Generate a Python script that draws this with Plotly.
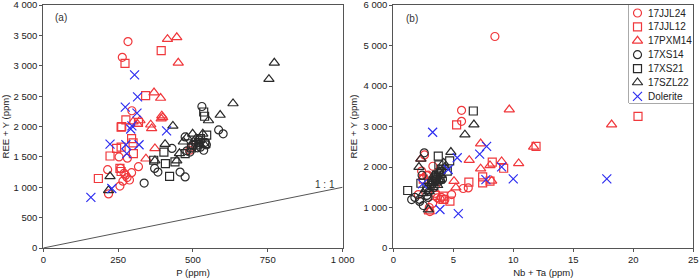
import plotly.graph_objects as go

# ---------------- data: panel (a) P vs REE+Y ----------------
jjl24_p = [283, 264, 296, 253, 218, 256, 275, 288, 295, 318, 281, 215, 266, 280, 489, 495, 258, 270]
jjl24_ree_a = [3400, 3140, 2260, 1500, 890, 1020, 1200, 1120, 1240, 1340, 1480, 1290, 1100, 1160, 1610, 1660, 1310, 1230]

jjl12_p = [273, 394, 342, 260, 276, 262, 260, 295, 223, 301, 184, 256, 260, 245, 318, 300]
jjl12_ree_a = [3040, 3250, 2510, 1990, 2110, 2000, 1660, 1800, 1515, 1555, 1145, 1310, 1260, 1640, 2070, 1730]

pxm14_p = [415, 446, 451, 370, 392, 359, 399, 323, 362, 394, 373, 343, 300, 315, 396]
pxm14_ree_a = [3440, 3470, 3050, 2560, 2470, 2030, 2150, 2100, 1970, 2130, 1640, 1470, 2080, 2040, 2180]

xs14_p = [530, 586, 601, 337, 383, 457, 474, 430, 372, 474, 536, 541, 500, 515, 520, 490, 545, 510, 480, 525]
xs14_ree_a = [2330, 1945, 1880, 1070, 1250, 1250, 1170, 1640, 1310, 1830, 1610, 1740, 1690, 1650, 1780, 1580, 1700, 1720, 1600, 1660]

xs21_p = [536, 539, 546, 369, 408, 422, 403, 474, 440, 510, 495, 525, 540, 520]
xs21_ree_a = [2240, 2170, 1860, 1445, 1390, 1180, 1580, 1555, 1420, 1700, 1650, 1800, 1720, 1740]

szl22_p = [772, 754, 634, 591, 552, 433, 223, 218, 407, 373, 446, 499, 533, 502, 468, 455, 480, 520, 510, 540]
szl22_ree_a = [3050, 2780, 2380, 2190, 2100, 2010, 1180, 950, 1710, 1440, 1440, 1880, 1880, 1750, 1750, 1560, 1820, 1720, 1800, 1690]

dol_p = [305, 315, 274, 313, 296, 412, 159, 229, 223, 276, 279, 320, 292]
dol_ree_a = [2850, 2490, 2320, 2220, 2010, 1930, 835, 980, 1710, 1700, 1555, 1700, 1960]

# ---------------- data: panel (b) Nb+Ta vs REE+Y ----------------
jjl24_nbta = [8.47, 5.69, 5.69, 5.83, 6.25, 4.86, 4.3, 3.05, 3.28, 3.67, 3.9, 2.08, 3.3, 2.36, 2.78, 3.0, 2.6, 2.9, 4.0, 3.5]
jjl24_ree_b = [5225, 3400, 3130, 1470, 1485, 1320, 1200, 900, 1100, 1240, 1200, 1320, 2020, 1900, 1790, 1000, 2300, 1800, 1250, 1350]

jjl12_nbta = [20.4, 5.28, 11.9, 7.45, 7.45, 8.06, 8.25, 9.2, 6.3, 4.72, 4.17, 2.5, 3.5, 4.2]
jjl12_ree_b = [3250, 3040, 2510, 1757, 1610, 1650, 2120, 1970, 1625, 1160, 1280, 1700, 1300, 1200]

pxm14_nbta = [9.67, 18.2, 7.28, 6.33, 9.03, 10.45, 8.06, 7.28, 5.06, 5.22, 11.7, 8.2, 2.3, 3.0, 3.5, 2.5]
pxm14_ree_b = [3420, 3050, 2580, 2170, 2140, 2090, 2040, 1960, 1650, 1490, 2500, 1660, 2200, 900, 1550, 1750]

xs14_nbta = [2.58, 1.53, 1.8, 2.2, 2.5, 2.8, 3.0, 3.2, 3.5, 3.7, 3.9, 3.6, 3.3, 4.0, 2.4, 2.2, 3.8, 3.4, 4.1, 2.9]
xs14_ree_b = [2350, 1196, 1250, 1150, 1050, 1300, 1400, 1550, 1650, 1750, 1850, 1700, 1600, 1900, 1800, 1200, 1650, 1500, 1700, 1250]

xs21_nbta = [6.67, 1.2, 3.75, 4.5, 3.6, 3.9, 3.2, 2.3, 3.5, 4.0, 2.8, 4.7, 3.3, 3.8]
xs21_ree_b = [3385, 1420, 2270, 1900, 1800, 1700, 1600, 1600, 1750, 1950, 1500, 2150, 1650, 2050]

szl22_nbta = [6.72, 5.97, 4.8, 2.14, 2.92, 3.5, 3.8, 4.2, 3.1, 2.7, 3.3, 3.6, 4.0, 2.5, 3.9, 3.4, 2.3, 4.3, 3.7, 3.0]
szl22_ree_b = [3050, 2800, 2370, 2000, 950, 1750, 1900, 2100, 1600, 1450, 1500, 1650, 1800, 1350, 1700, 1800, 2200, 2000, 1550, 1400]

dol_nbta = [3.28, 7.78, 7.2, 5.33, 9.03, 10.0, 17.8, 7.72, 4.58, 3.89, 5.42, 2.44]
dol_ree_b = [2860, 2510, 2320, 2230, 2005, 1708, 1708, 1690, 1940, 950, 850, 1584]

# reference 1:1 line
one_to_one = [0, 1000]

# ticks
ya_vals = [0, 500, 1000, 1500, 2000, 2500, 3000, 3500, 4000]
ya_text = ["0", "500", "1 000", "1 500", "2 000", "2 500", "3 000", "3 500", "4 000"]
xa_vals = [0, 250, 500, 750, 1000]
xa_text = ["0", "250", "500", "750", "1 000"]
yb_vals = [0, 1000, 2000, 3000, 4000, 5000, 6000]
yb_text = ["0", "1 000", "2 000", "3 000", "4 000", "5 000", "6 000"]
xb_vals = [0, 5, 10, 15, 20, 25]

RED = "#f0383c"
BLK = "#2a2a2a"
BLU = "#2f2ff0"

series = [
    ("17JJL24", "circle-open", RED, jjl24_p, jjl24_ree_a, jjl24_nbta, jjl24_ree_b),
    ("17JJL12", "square-open", RED, jjl12_p, jjl12_ree_a, jjl12_nbta, jjl12_ree_b),
    ("17PXM14", "triangle-up-open", RED, pxm14_p, pxm14_ree_a, pxm14_nbta, pxm14_ree_b),
    ("17XS14", "circle-open", BLK, xs14_p, xs14_ree_a, xs14_nbta, xs14_ree_b),
    ("17XS21", "square-open", BLK, xs21_p, xs21_ree_a, xs21_nbta, xs21_ree_b),
    ("17SZL22", "triangle-up-open", BLK, szl22_p, szl22_ree_a, szl22_nbta, szl22_ree_b),
    ("Dolerite", "x-thin-open", BLU, dol_p, dol_ree_a, dol_nbta, dol_ree_b),
]

W, H = 700, 280
fig = go.Figure()

fig.add_trace(go.Scatter(x=one_to_one, y=one_to_one, mode="lines",
                         line=dict(color="#555555", width=1), showlegend=False,
                         xaxis="x", yaxis="y", hoverinfo="skip"))

def marker_for(sym, col):
    size = 8
    if "triangle" in sym:
        size = 9
    if sym == "x-thin-open":
        size = 9
    return dict(symbol=sym, size=size, color=col, line=dict(color=col, width=1.2))

for name, sym, col, xa, ya, xb, yb in series:
    mk = marker_for(sym, col)
    fig.add_trace(go.Scatter(x=xa, y=ya, mode="markers", name=name, marker=mk,
                             showlegend=False, xaxis="x", yaxis="y"))
    fig.add_trace(go.Scatter(x=xb, y=yb, mode="markers", name=name, marker=mk,
                             showlegend=False, xaxis="x2", yaxis="y2"))

# ---- custom legend box (overlay axis in pixel units of the legend box) ----
box_l, box_r, box_t, box_b = 629, 693, 5, 103
row0, row_step = 13, 13.9
sym_x, text_x = 637.5, 645.5
mt, mb = 5, 32
ph = H - mt - mb
names = [s[0] for s in series]
for i, (name, sym, col, *_rest) in enumerate(series):
    fig.add_trace(go.Scatter(x=[sym_x], y=[row0 + row_step * i], mode="markers",
                             marker=marker_for(sym, col), showlegend=False,
                             xaxis="x3", yaxis="y3", hoverinfo="skip"))

annotations = [
    dict(text="(a)", x=0.032, y=0.948, xref="x domain", yref="y domain",
         showarrow=False, xanchor="left", yanchor="middle",
         font=dict(size=10, color="#333333")),
    dict(text="(b)", x=0.036, y=0.944, xref="x2 domain", yref="y2 domain",
         showarrow=False, xanchor="left", yanchor="middle",
         font=dict(size=10, color="#333333")),
    dict(text="1 : 1", x=941, y=1052, xref="x", yref="y", showarrow=False,
         xanchor="center", yanchor="middle", font=dict(size=10, color="#333333")),
]
for i, name in enumerate(names):
    annotations.append(dict(text=name, x=text_x, y=row0 + row_step * i, xref="x3", yref="y3",
                            showarrow=False, xanchor="left", yanchor="middle",
                            font=dict(size=10, color="#222222")))

axis_common = dict(showline=True, mirror=True, linecolor="#555555", linewidth=1,
                   ticks="outside", ticklen=3, tickcolor="#555555", showgrid=False,
                   zeroline=False, automargin=False, ticklabeloverflow="allow",
                   tickfont=dict(size=9.5, color="#222222"))

fig.update_layout(
    width=W, height=H,
    margin=dict(l=0, r=0, t=mt, b=mb, pad=0),
    paper_bgcolor="white", plot_bgcolor="white",
    font=dict(family="Liberation Sans, Arial, sans-serif", size=10, color="#222222"),
    xaxis=dict(domain=[43.3 / W, 342.7 / W], range=[0, 1000.5], tickmode="array",
               tickvals=xa_vals, ticktext=xa_text,
               title=dict(text="P (ppm)", font=dict(size=9.5), standoff=4), **axis_common),
    yaxis=dict(domain=[0, 1], range=[0, 4002], tickmode="array",
               tickvals=ya_vals, ticktext=ya_text, anchor="x",
               title=dict(text="REE + Y (ppm)", font=dict(size=9.5), standoff=4), **axis_common),
    xaxis2=dict(domain=[393.3 / W, 693.3 / W], range=[0, 25.01], tickmode="array",
                tickvals=xb_vals, anchor="y2",
                title=dict(text="Nb + Ta (ppm)", font=dict(size=9.5), standoff=4), **axis_common),
    yaxis2=dict(domain=[0, 1], range=[0, 6003], tickmode="array",
                tickvals=yb_vals, ticktext=yb_text, anchor="x2",
                title=dict(text="REE + Y (ppm)", font=dict(size=9.5), standoff=4), **axis_common),
    xaxis3=dict(domain=[box_l / W, box_r / W], range=[box_l, box_r], visible=False,
                anchor="y3", fixedrange=True),
    yaxis3=dict(domain=[(H - mb - box_b) / ph, (H - mb - box_t) / ph], range=[box_b, box_t],
                visible=False, anchor="x3", fixedrange=True),
    shapes=[dict(type="rect", xref="x3 domain", yref="y3 domain", x0=0, x1=1, y0=0, y1=1,
                 line=dict(color="#555555", width=1), fillcolor="rgba(255,255,255,0)",
                 layer="below")],
    showlegend=False,
    hovermode=False,
    annotations=annotations,
)

fig.write_html("out.html", config={"displayModeBar": False},
               post_script="document.body.style.margin='0';document.body.style.overflow='hidden';")
